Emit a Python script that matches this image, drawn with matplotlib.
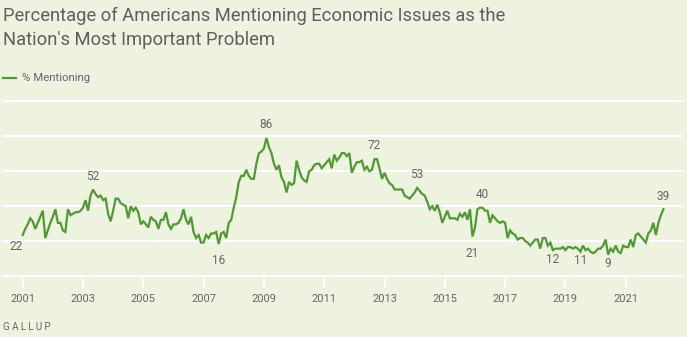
import numpy as np
import matplotlib
matplotlib.use("Agg")
import matplotlib.pyplot as plt

# monthly share mentioning economic issues, Jan 2001 - Apr 2022
start_year = 2001
pct_mentioning = [
    22, 26, 29, 33, 31, 26, 30, 34, 38, 20, 25, 30,   # 2001
    34, 39, 30, 30, 25, 24, 39, 35, 36, 37, 37, 38,   # 2002
    40, 45, 38, 48, 52, 49, 47, 48, 45, 46, 36, 31,   # 2003
    38, 46, 46, 43, 42, 41, 33, 41, 38, 40, 37, 29,   # 2004
    31, 29, 27, 34, 32, 31, 26, 32, 32, 37, 29, 26,   # 2005
    29, 29, 30, 33, 39, 32, 29, 34, 24, 20, 22, 17,   # 2006
    17, 22, 20, 23, 23, 24, 16, 23, 24, 20, 30, 32,   # 2007
    40, 47, 57, 61, 61, 65, 61, 59, 59, 69, 76, 77,   # 2008
    79, 86, 80, 76, 69, 65, 68, 60, 57, 50, 57, 55,   # 2009
    56, 71, 65, 60, 58, 57, 64, 65, 68, 69, 69, 66,   # 2010
    68, 70, 72, 66, 75, 71, 73, 76, 76, 74, 76, 63,   # 2011
    67, 70, 70, 71, 65, 67, 64, 65, 72, 72, 66, 59,   # 2012
    63, 59, 56, 55, 52, 52, 52, 52, 48, 47, 46, 48,   # 2013
    50, 53, 51, 49, 48, 44, 39, 41, 38, 42, 37, 30,   # 2014
    34, 38, 33, 33, 33, 32, 36, 34, 37, 32, 39, 21,   # 2015
    27, 39, 40, 40, 38, 38, 30, 35, 33, 31, 30, 31,   # 2016
    30, 20, 25, 23, 22, 19, 20, 20, 18, 17, 15, 17,   # 2017
    19, 19, 13, 20, 20, 15, 17, 12, 13, 13, 13, 14,   # 2018
    12, 14, 14, 13, 14, 13, 11, 15, 12, 13, 11, 10,   # 2019
    11, 13, 13, 15, 19, 9, 13, 11, 15, 11, 10, 15,    # 2020
    14, 14, 19, 14, 22, 23, 21, 19, 17, 23, 25, 30,   # 2021
    22, 30, 35, 39,                                   # 2022
]
labelled_months = [0, 28, 78, 97, 140, 157, 179, 183, 211, 222, 233, 255]
year_ticks = list(range(2001, 2022, 2))

title = ("Percentage of Americans Mentioning Economic Issues as the\n"
         "Nation's Most Important Problem")
series_name = "% Mentioning"
source = "G A L L U P"

# label offsets in points (dx, dy), same order as labelled_months
label_offsets = [(-4.5, -8), (0, 9), (0, -12), (0, 9.5), (0, 9.5), (0, 9.5),
                 (0, -12), (0, 9.5), (0, -6.5), (0, -6.5), (0, -6.5), (0, 9.5)]

bg = "#edf3df"
green = "#4f9a33"
grey = "#666666"
plt.rcParams["font.family"] = ["Roboto", "DejaVu Sans"]

x = start_year + np.arange(len(pct_mentioning)) / 12.0
y = np.array(pct_mentioning, dtype=float)

fig = plt.figure(figsize=(6.87, 3.37), dpi=100, facecolor=bg)
ax = fig.add_axes([3 / 687, 0.1745, 680 / 687, 0.5309], facecolor=bg)

ax.set_xlim(2000.347, 2022.9)
ax.set_ylim(-6.5, 111.5)
ax.set_yticks([-5.1, 18.0, 41.1, 64.2, 87.3, 110.4])
ax.grid(axis="y", color="white", lw=1.5)
ax.set_axisbelow(True)
ax.tick_params(axis="y", left=False, labelleft=False)
ax.set_xticks(year_ticks)
ax.set_xticklabels([str(t) for t in year_ticks])
ax.tick_params(axis="x", direction="out", length=7.5, width=1.5,
               color="white", pad=4, labelsize=8, labelcolor=grey)
for s in ax.spines.values():
    s.set_visible(False)

ax.plot(x, y, color=green, lw=1.6, solid_joinstyle="miter", zorder=3)

for i, (dx, dy) in zip(labelled_months, label_offsets):
    ax.annotate(str(pct_mentioning[i]), (x[i], y[i]), xytext=(dx, dy),
                textcoords="offset points", ha="center", va="center",
                fontsize=8.5, color=grey)

fig.text(3 / 687, 1 - 7 / 337, title, ha="left", va="top", fontsize=13.2,
         color="#5f5f5f", linespacing=1.45)
fig.lines.append(plt.Line2D([3 / 687, 16 / 687], [1 - 78 / 337] * 2,
                            transform=fig.transFigure, color=green, lw=1.6))
fig.text(22 / 687, 1 - 78 / 337, series_name, ha="left", va="center",
         fontsize=8.2, color=grey)
fig.text(3 / 687, 1 - 327 / 337, source, ha="left", va="center",
         fontsize=7, color=grey)

fig.savefig("out.png", dpi=100, facecolor=bg)
